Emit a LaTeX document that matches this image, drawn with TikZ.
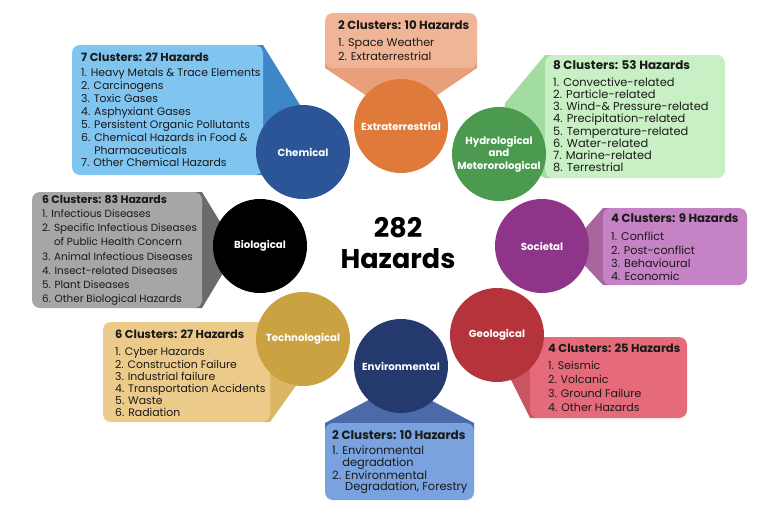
\documentclass[tikz,border=0pt]{standalone}
\usepackage{fontspec}
\setmainfont{Poppins}
\usetikzlibrary{positioning}

\definecolor{texte}{RGB}{25,25,25}
\definecolor{chemC}{RGB}{43,85,150}
\definecolor{chemB}{RGB}{128,196,240}
\definecolor{chemP}{RGB}{63,134,200}
\definecolor{extC}{RGB}{224,122,59}
\definecolor{extB}{RGB}{240,180,150}
\definecolor{extP}{RGB}{232,160,124}
\definecolor{hydC}{RGB}{75,154,80}
\definecolor{hydB}{RGB}{200,240,196}
\definecolor{hydP}{RGB}{163,220,160}
\definecolor{bioB}{RGB}{166,166,166}
\definecolor{bioP}{RGB}{107,107,107}
\definecolor{socC}{RGB}{142,53,137}
\definecolor{socB}{RGB}{197,131,198}
\definecolor{socP}{RGB}{168,101,159}
\definecolor{techC}{RGB}{203,162,65}
\definecolor{techB}{RGB}{236,203,138}
\definecolor{techP}{RGB}{219,182,101}
\definecolor{geoC}{RGB}{181,51,59}
\definecolor{geoB}{RGB}{229,107,123}
\definecolor{geoP}{RGB}{199,85,99}
\definecolor{envC}{RGB}{36,58,110}
\definecolor{envB}{RGB}{122,162,222}
\definecolor{envP}{RGB}{74,106,170}

\newcommand{\titre}[1]{\scalebox{1.05}{\bfseries #1}}

\tikzset{
  cercle/.style={circle, minimum size=94pt, inner sep=0pt, text=white,
    font=\bfseries\fontsize{10.2}{12.5}\selectfont, align=center},
  boite/.style={rounded corners=8pt},
  liste/.style 2 args={anchor=north west, inner sep=0pt, align=left, text=texte,
    font=\fontsize{#1}{#2}\selectfont},
}

\begin{document}
\begin{tikzpicture}[x=1pt,y=-1pt]
        \useasboundingbox (0,0) rectangle (780,512);

        % Pointeurs
        \fill[chemP] (255,45) -- (263,45) -- (300,105) -- (303,152) -- (263,175) -- (255,175) -- cycle;
        \fill[extP] (325,60) -- (325,68) -- (370,98) -- (433,98) -- (477,68) -- (477,60) -- cycle;
        \fill[hydP] (553,55) -- (545,55) -- (505,103) -- (499,154) -- (545,178) -- (553,178) -- cycle;
        \fill[bioP] (194,192) -- (202,192) -- (228,235) -- (232,258) -- (202,308) -- (194,308) -- cycle;
        \fill[socP] (611,208) -- (603,208) -- (575,240) -- (575,255) -- (603,285) -- (611,285) -- cycle;
        \fill[techP] (262,322) -- (270,322) -- (310,350) -- (300,380) -- (270,422) -- (262,422) -- cycle;
        \fill[geoP] (538,337) -- (530,337) -- (495,340) -- (500,358) -- (530,418) -- (538,418) -- cycle;
        \fill[envP] (325,431) -- (325,423) -- (380,394) -- (419,394) -- (474,423) -- (474,431) -- cycle;

        % Boites
        \fill[chemB, boite] (72,45) rectangle (263,175);
        \fill[extB, boite] (325,13) rectangle (477,68);
        \fill[hydB, boite] (545,55) rectangle (725,178);
        \fill[bioB, boite] (32,192) rectangle (202,308);
        \fill[socB, boite] (603,208) rectangle (747,285);
        \fill[techB, boite] (103,322) rectangle (270,422);
        \fill[geoB, boite] (530,337) rectangle (687,418);
        \fill[envB, boite] (325,423) rectangle (474,500);

        % Cercles
        \node[cercle, fill=chemC] (chem) at (303,152) {Chemical};
        \node[cercle, fill=extC] (ext) at (401,126) {Extraterrestrial};
        \node[cercle, fill=hydC] (hyd) at (499,154) {Hydrological\\and\\Meterorological};
        \node[cercle, fill=black] (bio) at (260,246) {Biological};
        \node[cercle, fill=socC] (soc) at (542,246) {Societal};
        \node[cercle, fill=techC] (tech) at (303,339) {Technological};
        \node[cercle, fill=geoC] (geo) at (497,335) {Geological};
        \node[cercle, fill=envC] (env) at (401,366) {Environmental};

        % Total
        \node[font=\bfseries\fontsize{27}{31}\selectfont, align=center] (total) at (398,243) {282\\Hazards};

        % Listes
        \node[liste={10.9}{12.9}] (chemL) at (81,53) {\titre{7 Clusters: 27 Hazards}\\[2pt]
          1. Heavy Metals \& Trace Elements\\ 2. Carcinogens\\ 3. Toxic Gases\\
          4. Asphyxiant Gases\\ 5. Persistent Organic Pollutants\\
          6. Chemical Hazards in Food \&\\ \phantom{6. }Pharmaceuticals\\
          7. Other Chemical Hazards};
        \node[liste={11.2}{14}] (extL) at (338,21) {\titre{2 Clusters: 10 Hazards}\\[3pt]
          1. Space Weather\\ 2. Extraterrestrial};
        \node[liste={11.4}{12.2}] (hydL) at (553,60) {\titre{8 Clusters: 53 Hazards}\\[5pt]
          1. Convective-related\\ 2. Particle-related\\ 3. Wind-\& Pressure-related\\
          4. Precipitation-related\\ 5. Temperature-related\\ 6. Water-related\\
          7. Marine-related\\ 8. Terrestrial};
        \node[liste={10.4}{14.2}] (bioL) at (42,195) {\titre{6 Clusters: 83 Hazards}\\
          1. Infectious Diseases\\ 2. Specific Infectious Diseases\\
          \phantom{2. }of Public Health Concern\\ 3. Animal Infectious Diseases\\
          4. Insect-related Diseases\\ 5. Plant Diseases\\ 6. Other Biological Hazards};
        \node[liste={11.2}{13.3}] (socL) at (611,214) {\titre{4 Clusters: 9 Hazards}\\[4.5pt]
          1. Conflict\\ 2. Post-conflict\\ 3. Behavioural\\ 4. Economic};
        \node[liste={10.9}{12.2}] (techL) at (115,330) {\titre{6 Clusters: 27 Hazards}\\[5pt]
          1. Cyber Hazards\\ 2. Construction Failure\\ 3. Industrial failure\\
          4. Transportation Accidents\\ 5. Waste\\ 6. Radiation};
        \node[liste={11}{14}] (geoL) at (548,344) {\titre{4 Clusters: 25 Hazards}\\[3pt]
          1. Seismic\\ 2. Volcanic\\ 3. Ground Failure\\ 4. Other Hazards};
        \node[liste={11.4}{11.7}] (envL) at (332,430) {\titre{2 Clusters: 10 Hazards}\\[4pt]
          1. Environmental\\ \phantom{1. }degradation\\ 2. Environmental\\
          \phantom{2. }Degradation, Forestry};
\end{tikzpicture}
\end{document}
